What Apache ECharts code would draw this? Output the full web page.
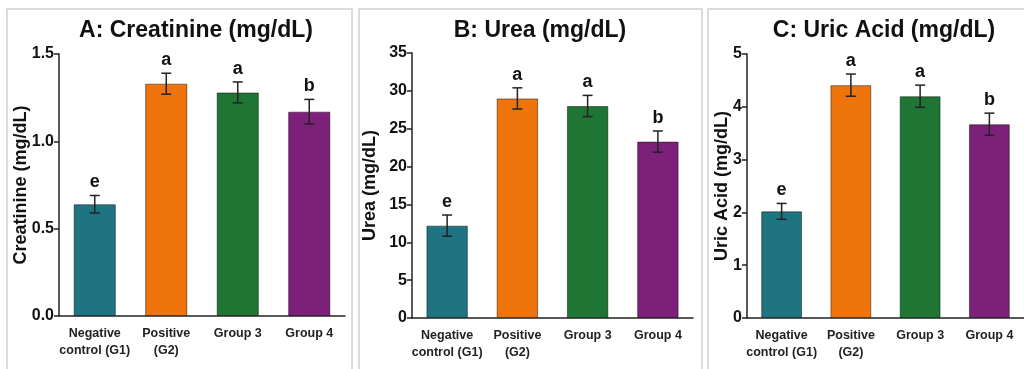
<!DOCTYPE html>
<html>
<head>
<meta charset="utf-8">
<script src="https://cdn.jsdelivr.net/npm/echarts@6/dist/echarts.min.js"></script>
<style>
html,body{margin:0;padding:0;background:#fff;}
#chart{width:1024px;height:369px;}
</style>
</head>
<body>
<div id="chart"></div>
<script>
const categories = ['Negative\ncontrol (G1)', 'Positive\n(G2)', 'Group 3', 'Group 4'];
const barColors = ['#1e7481', '#ef740b', '#1f7634', '#7c2079'];
const letters = ['e', 'a', 'a', 'b'];

const creatinine = [0.64, 1.33, 1.28, 1.17];
const creatinineErr = [0.05, 0.06, 0.06, 0.07];
const urea = [12.2, 29.0, 28.0, 23.3];
const ureaErr = [1.4, 1.4, 1.4, 1.4];
const uricAcid = [2.02, 4.41, 4.2, 3.67];
const uricAcidErr = [0.15, 0.21, 0.21, 0.21];

const titles = ['A: Creatinine (mg/dL)', 'B: Urea (mg/dL)', 'C: Uric Acid (mg/dL)'];
const yNames = ['Creatinine (mg/dL)', 'Urea (mg/dL)', 'Uric Acid (mg/dL)'];
const yMax = [1.5, 35, 5];
const yInterval = [0.5, 5, 1];
const yDecimals = [1, 0, 0];

const FONT = "'Liberation Sans', Arial, sans-serif";
const panels = [
  {means: creatinine, errs: creatinineErr},
  {means: urea, errs: ureaErr},
  {means: uricAcid, errs: uricAcidErr}
];
const grids = [
  {left: 59, width: 286, top: 54, bottom: 53},
  {left: 412, width: 281, top: 53, bottom: 51},
  {left: 747, width: 280, top: 54, bottom: 51}
];
const titleCenters = [191, 535, 879];
const nameGaps = [29, 33, 16];
const frames = [[7, 9, 345, 380], [359, 9, 343, 380], [708, 9, 330, 380]];

const chart = echarts.init(document.getElementById('chart'));
const option = {
  backgroundColor: '#fff',
  animation: false,
  title: titles.map((t, i) => ({
    text: t, left: titleCenters[i], top: 14, textAlign: 'center',
    textStyle: {fontFamily: FONT, fontSize: 23, fontWeight: 'bold', color: '#111'}
  })),
  graphic: frames.map(f => ({
    type: 'rect', shape: {x: f[0], y: f[1], width: f[2], height: f[3]},
    style: {fill: 'none', stroke: '#cfcfcf', lineWidth: 1.5}, silent: true
  })),
  grid: grids,
  xAxis: grids.map((g, i) => ({
    type: 'category', gridIndex: i, data: categories,
    axisLine: {lineStyle: {color: '#222', width: 1.5}},
    axisTick: {show: false},
    axisLabel: {interval: 0, margin: 9, fontFamily: FONT, fontSize: 12.5, fontWeight: 'bold', color: '#222', lineHeight: 17}
  })),
  yAxis: grids.map((g, i) => ({
    type: 'value', gridIndex: i, min: 0, max: yMax[i], interval: yInterval[i],
    name: yNames[i], nameLocation: 'middle', nameGap: nameGaps[i], nameMoveOverlap: false,
    nameTextStyle: {fontFamily: FONT, fontSize: 18, fontWeight: 'bold', color: '#111'},
    axisLine: {show: true, lineStyle: {color: '#222', width: 1.5}},
    axisTick: {show: true, length: 5, lineStyle: {color: '#222', width: 1.5}},
    splitLine: {show: false},
    axisLabel: {margin: 5, fontFamily: FONT, fontSize: 16, fontWeight: 'bold', color: '#111',
      formatter: v => v.toFixed(yDecimals[i])}
  })),
  series: []
};
panels.forEach((p, i) => {
  option.series.push({
    type: 'bar', xAxisIndex: i, yAxisIndex: i, barWidth: '59%',
    data: p.means.map((v, k) => ({value: v, itemStyle: {color: barColors[k], borderColor: 'rgba(0,0,0,0.45)', borderWidth: 1}}))
  });
  option.series.push({
    type: 'custom', xAxisIndex: i, yAxisIndex: i, z: 10,
    data: p.means.map((v, k) => [k, v, p.errs[k]]),
    renderItem: function (params, api) {
      const x = api.value(0), m = api.value(1), e = api.value(2);
      const top = api.coord([x, m + e]);
      const bot = api.coord([x, m - e]);
      const cap = 5;
      const st = {stroke: '#222', lineWidth: 1.5};
      return {
        type: 'group',
        children: [
          {type: 'line', shape: {x1: top[0], y1: top[1], x2: bot[0], y2: bot[1]}, style: st},
          {type: 'line', shape: {x1: top[0] - cap, y1: top[1], x2: top[0] + cap, y2: top[1]}, style: st},
          {type: 'line', shape: {x1: bot[0] - cap, y1: bot[1], x2: bot[0] + cap, y2: bot[1]}, style: st},
          {type: 'text', x: top[0], y: top[1] - 4, style: {text: letters[params.dataIndex], fontFamily: FONT, fontSize: 18, fontWeight: 'bold', fill: '#111', align: 'center', verticalAlign: 'bottom'}}
        ]
      };
    }
  });
});
chart.setOption(option);
</script>
</body>
</html>
